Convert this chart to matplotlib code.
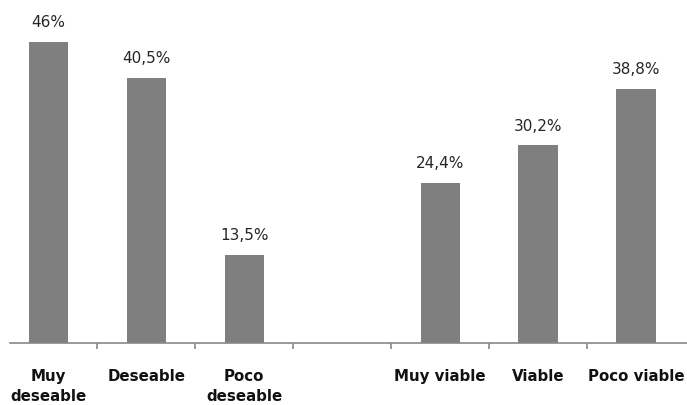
import numpy as np
import matplotlib.pyplot as plt

categories = ['Muy\ndeseable', 'Deseable', 'Poco\ndeseable', '', 'Muy viable', 'Viable', 'Poco viable']
values = [46.0, 40.5, 13.5, None, 24.4, 30.2, 38.8]
value_labels = ['46%', '40,5%', '13,5%', '', '24,4%', '30,2%', '38,8%']

fig = plt.figure(figsize=(6.87, 4.05), dpi=100)
ax = fig.add_axes([10 / 687, 1 - 343 / 405, 677 / 687, 343 / 405])

x = np.arange(len(categories))
for xi, v, lab in zip(x, values, value_labels):
    if v is None:
        continue
    ax.bar(xi, v, width=0.4, color='#7f7f7f')
    ax.annotate(lab, (xi, v), xytext=(0, 8.5), textcoords='offset points',
                ha='center', va='bottom', fontsize=11, color='#262626')

ax.set_xlim(-0.39, 6.52)
ax.set_ylim(0, 52.4)

for s in ['top', 'right', 'left']:
    ax.spines[s].set_visible(False)
ax.spines['bottom'].set_color('#888888')
ax.spines['bottom'].set_linewidth(1.2)
ax.set_yticks([])

ax.set_xticks(x)
ax.set_xticklabels(categories, fontsize=10.8, fontweight='bold', linespacing=1.4,
                   va='top', color='#111111')
ax.tick_params(axis='x', which='major', length=0, pad=19)
ax.set_xticks(x[:-1] + 0.5, minor=True)
ax.tick_params(axis='x', which='minor', length=4, width=1.2, color='#888888', direction='out')

fig.savefig('out.png', dpi=100)
